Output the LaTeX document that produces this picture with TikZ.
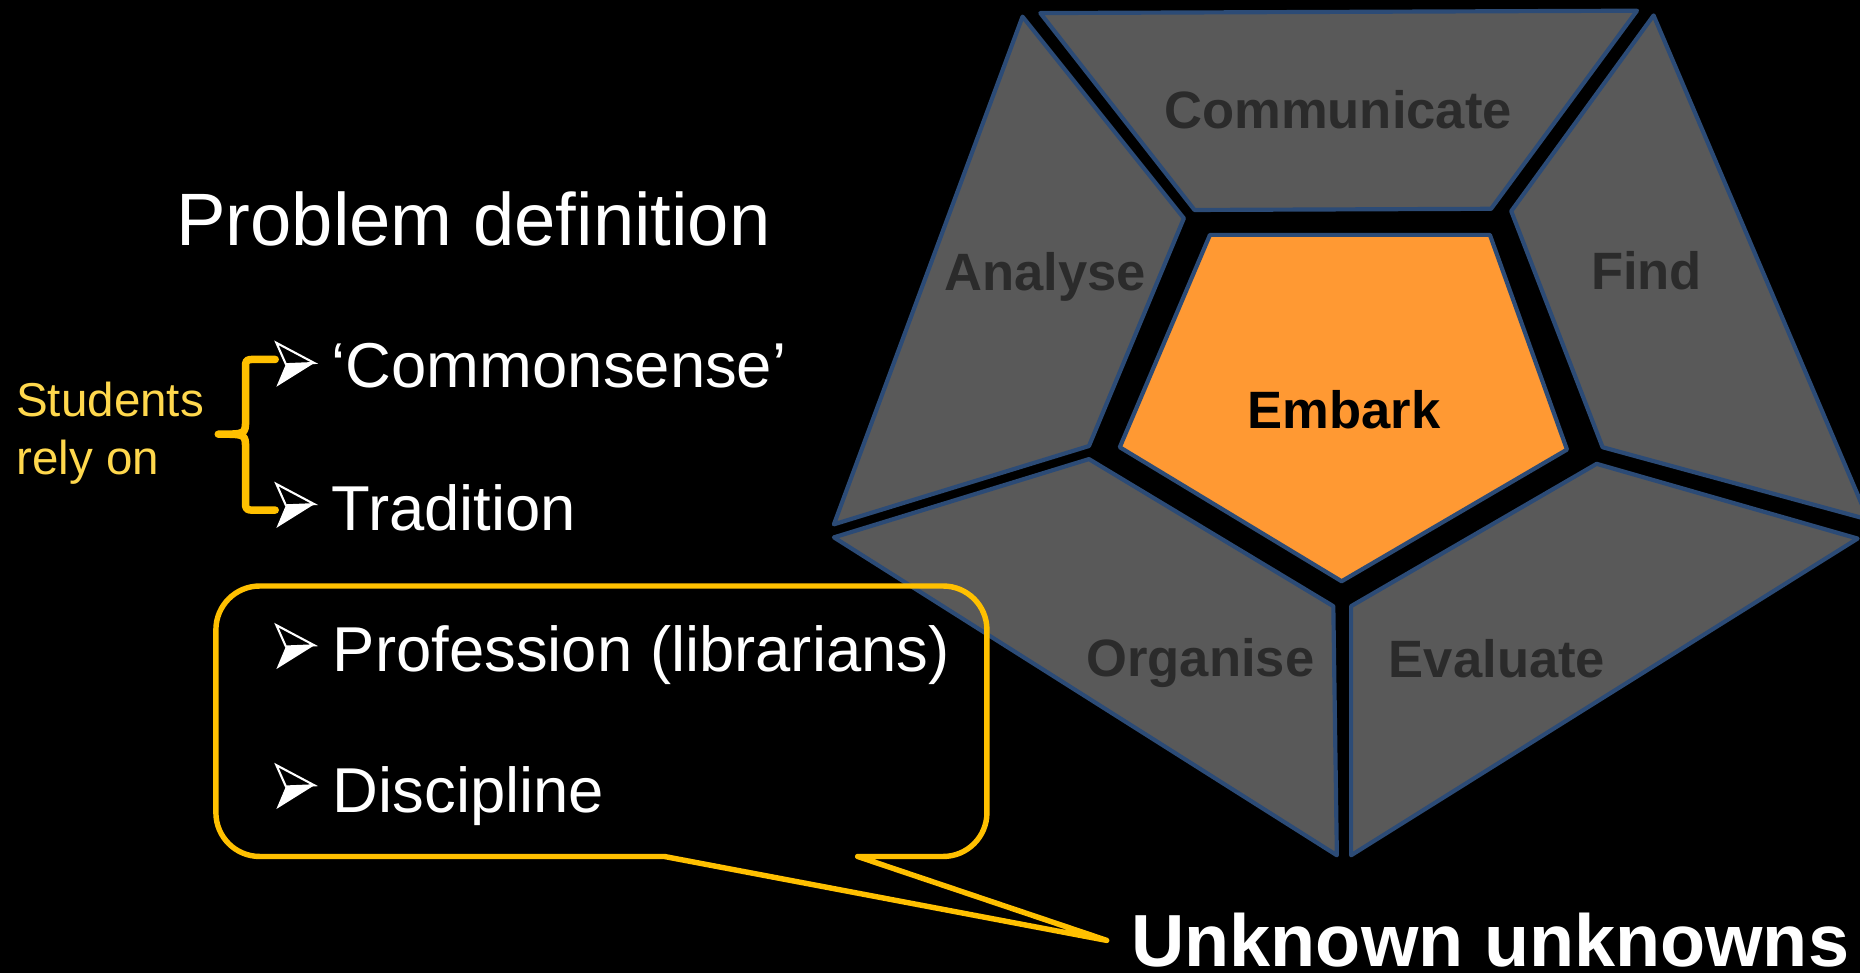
\documentclass[tikz,border=0pt]{standalone}
\usepackage{fontspec}
\setmainfont{Liberation Sans}
\usepackage{xcolor}
\usepackage{tikz}
\usetikzlibrary{positioning}

\definecolor{segGray}{HTML}{595959}
\definecolor{segEdge}{HTML}{2C4B76}
\definecolor{labelGray}{HTML}{2B2B2B}
\definecolor{embarkOrange}{HTML}{FF9933}
\definecolor{calloutGold}{HTML}{FFC000}
\definecolor{noteYellow}{HTML}{FFD84D}

\tikzset{
  segment/.style={fill=segGray, draw=segEdge, line width=1pt, line join=round},
  seglabel/.style={anchor=base, inner sep=0pt, text=labelGray,
    font=\fontsize{12.6}{14}\selectfont\bfseries},
  item/.style={anchor=base west, inner sep=0pt, text=white,
    font=\fontsize{15.2}{17}\selectfont},
  bulletarrow/.pic={
    \fill[white] (8,18) -- (32,17) -- (0,37) -- cycle;
    \draw[white, line width=0.5pt, line join=miter] (0,0) -- (32,17) -- (8,18) -- cycle;
  }
}

\begin{document}
\begin{tikzpicture}[x=0.01cm, y=-0.01cm]
    \fill[black] (0,0) rectangle (1568,820);
    \useasboundingbox (0,0) rectangle (1568,820);

    % outer ring
    \draw[segment] (877,11) -- (1380,9) -- (1257,176) -- (1007,177) -- cycle;
    \draw[segment] (862,14) -- (998,184) -- (918,376) -- (703,442) -- cycle;
    \draw[segment] (1394,13) -- (1575,438) -- (1351,377) -- (1274,178) -- cycle;
    \draw[segment] (918,387) -- (1124,511) -- (1127,721) -- (703,453) -- cycle;
    \draw[segment] (1346,391) -- (1566,454) -- (1139,721) -- (1139,511) -- cycle;

    % centre
    \draw[segment, fill=embarkOrange] (1020,198) -- (1256,198) -- (1321,379) -- (1131,490) -- (944,377) -- cycle;

    \node[seglabel] (communicate) at (1128,108) {Communicate};
    \node[seglabel] (analyse) at (881,245) {Analyse};
    \node[seglabel] (find) at (1388,244) {Find};
    \node[seglabel, text=black] (embark) at (1133,361) {Embark};
    \node[seglabel] (organise) at (1012,570) {Organise};
    \node[seglabel] (evaluate) at (1262,571) {Evaluate};

    % left side
    \node[item, font=\fontsize{17.8}{20}\selectfont] (problem) at (148,207) {Problem definition};

    \pic at (233,289) {bulletarrow};
    \pic at (233,408) {bulletarrow};
    \pic at (233,527) {bulletarrow};
    \pic at (233,645) {bulletarrow};
    \node[item] (commonsense) at (279,327) {‘Commonsense’};
    \node[item] (tradition) at (279,447) {Tradition};
    \node[item] (profession) at (280,566) {Profession (librarians)};
    \node[item] (discipline) at (280,685) {Discipline};

    \node[anchor=base west, inner sep=0pt, align=left, text=noteYellow,
          font=\fontsize{11.4}{14}\selectfont] (students) at (13,400) {Students\\rely on};
    \draw[calloutGold, line width=1.8pt, line cap=round, line join=round]
        (232,303) -- (215,303) .. controls (207,303) .. (207,311) -- (207,354)
        .. controls (207,366) .. (184,366)
        .. controls (207,366) .. (207,378) -- (207,422)
        .. controls (207,430) .. (215,430) -- (232,430);

    % callout
    \node[anchor=base west, inner sep=0pt, text=white,
          font=\fontsize{17.7}{20}\selectfont\bfseries] (unknown) at (953,815) {Unknown unknowns};
    \coordinate (tip) at ([xshift=-0.2cm]unknown.west);
    \draw[calloutGold, line width=1.3pt, line join=round]
        (560,722) [rounded corners=10.5pt] -- (182,722) -- (182,494) -- (832,494) -- (832,722)
        [sharp corners] -- (723,722) -- (tip) -- cycle;
\end{tikzpicture}
\end{document}
